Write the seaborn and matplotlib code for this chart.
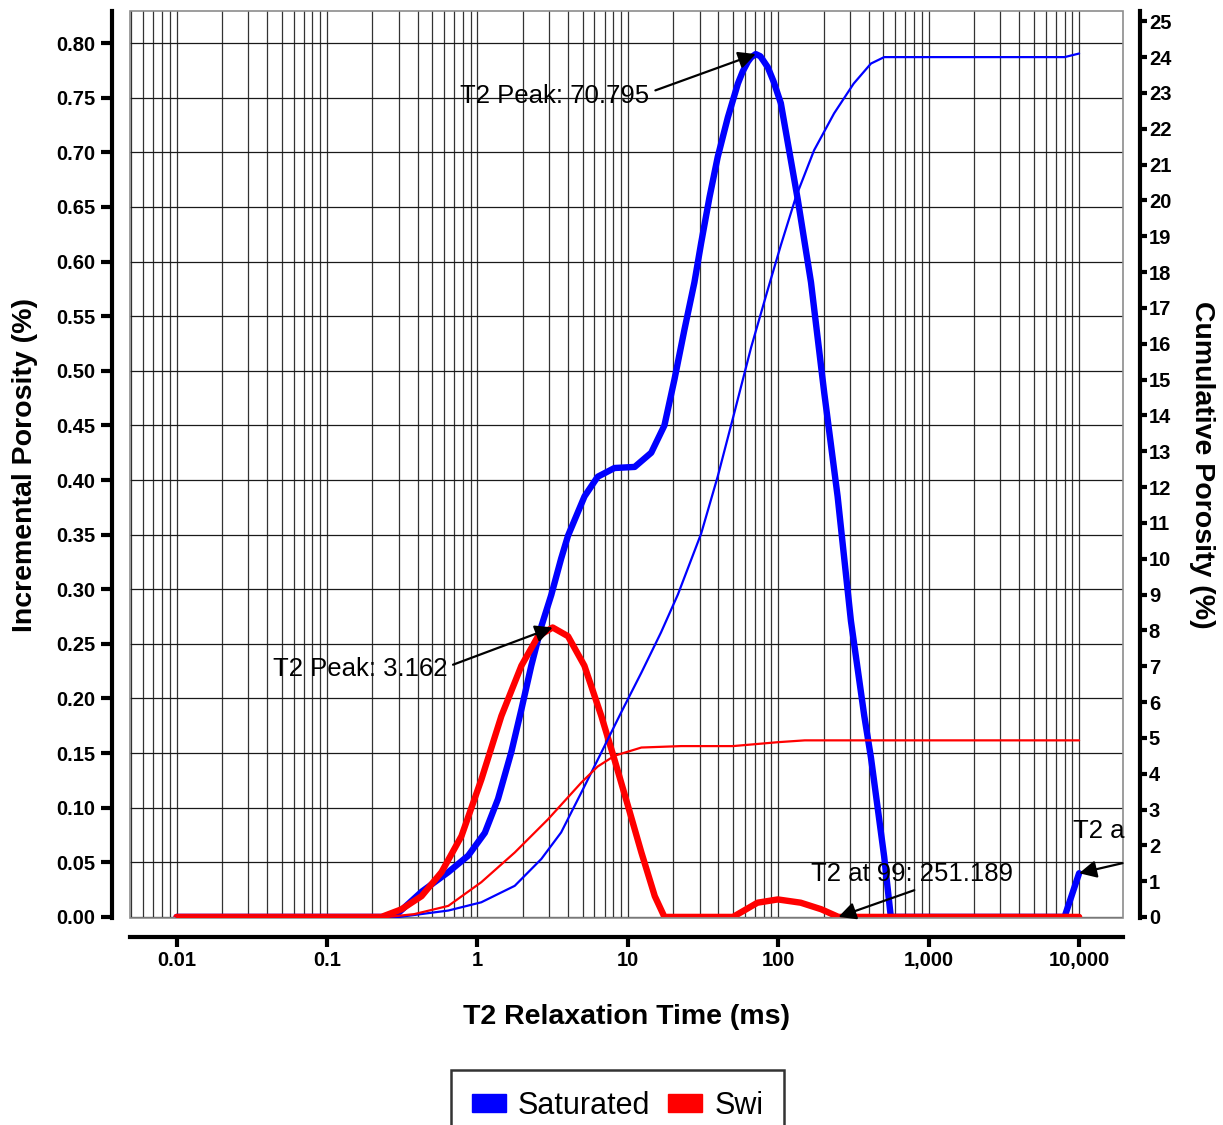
import numpy as np
import pandas as pd
import seaborn as sns
import matplotlib.pyplot as plt
from matplotlib.patches import Patch, Rectangle
from matplotlib.ticker import LogLocator, NullFormatter

# Saturated, incremental porosity (%)
sat_inc_t2 = [0.01, 0.25, 0.3, 0.425, 0.64, 0.867, 1.12, 1.37, 1.68, 1.96, 2.28, 2.66, 3.1, 3.6,
              4.0, 5.15, 6.3, 8.15, 11.1, 14.3, 17.5, 20.4, 23.8, 27.7, 30.7, 34.9, 39.6, 46.2,
              53.9, 58, 62.8, 66, 70.8, 76, 85.1, 93, 104, 134.7, 165, 202, 248, 304, 373, 413,
              506, 560, 8000, 10000]
sat_inc = [0, 0, 0.004, 0.023, 0.041, 0.056, 0.077, 0.108, 0.151, 0.19, 0.23, 0.266, 0.295, 0.328,
           0.349, 0.385, 0.403, 0.411, 0.412, 0.425, 0.450, 0.492, 0.538, 0.581, 0.617, 0.659, 0.696, 0.732,
           0.763, 0.774, 0.783, 0.787, 0.790, 0.788, 0.778, 0.765, 0.745, 0.657, 0.581, 0.48, 0.385, 0.271,
           0.184, 0.146, 0.055, 0.0, 0.0, 0.040]

# Saturated, cumulative porosity (%)
sat_cum_t2 = [0.01, 0.3, 0.64, 1.06, 1.77, 2.66, 3.6, 4.9, 6.66, 9.0, 12.3, 16.6, 21.5, 30.7,
              39.6, 51, 66, 85, 104, 131, 173, 235, 317, 413, 506, 8000, 10000]
sat_cum = [0, 0, 0.18, 0.41, 0.87, 1.62, 2.36, 3.47, 4.59, 5.7, 6.82, 7.94, 9.0, 10.7,
           12.3, 14.07, 15.9, 17.5, 18.75, 20.1, 21.4, 22.43, 23.26, 23.82, 24.0, 24.0, 24.1]

# Swi, incremental porosity (%)
swi_inc_t2 = [0.01, 0.23, 0.313, 0.425, 0.577, 0.783, 1.063, 1.443, 1.96, 2.53, 3.162, 4.0, 5.14,
              6.66, 8.15, 10.0, 12.3, 15.1, 17.5, 50, 59.5, 72.7, 99.3, 141, 193, 251, 10000]
swi_inc = [0, 0, 0.007, 0.019, 0.041, 0.074, 0.126, 0.184, 0.23, 0.257, 0.265, 0.257, 0.23,
           0.184, 0.144, 0.102, 0.059, 0.019, 0.0, 0.0, 0.006, 0.013, 0.016, 0.013, 0.007, 0.0, 0.0]

# Swi, cumulative porosity (%)
swi_cum_t2 = [0.01, 0.25, 0.38, 0.64, 1.06, 1.77, 2.95, 4.9, 6.3, 8.15, 12.3, 22.6, 50, 100, 150, 10000]
swi_cum = [0, 0, 0.08, 0.31, 0.97, 1.8, 2.73, 3.75, 4.2, 4.5, 4.73, 4.77, 4.77, 4.88, 4.93, 4.93]

samples = ["Saturated", "Swi"]
colors = ["blue", "red"]

x_ticks = [0.01, 0.1, 1, 10, 100, 1000, 10000]
x_tick_labels = ["0.01", "0.1", "1", "10", "100", "1,000", "10,000"]
y_ticks = [round(0.05 * i, 2) for i in range(17)]
y2_ticks = list(range(26))

peak_labels = ["T2 Peak: 70.795", "T2 Peak: 3.162", "T2 at 99: 251.189", "T2 a"]
peak_x = [70.795, 3.162, 251.189, 10000]
peak_y = [0.790, 0.265, 0.0, 0.040]

inc = pd.DataFrame({
    "T2": sat_inc_t2 + swi_inc_t2,
    "Porosity": sat_inc + swi_inc,
    "Sample": ["Saturated"] * len(sat_inc_t2) + ["Swi"] * len(swi_inc_t2),
})
cum = pd.DataFrame({
    "T2": sat_cum_t2 + swi_cum_t2,
    "Porosity": sat_cum + swi_cum,
    "Sample": ["Saturated"] * len(sat_cum_t2) + ["Swi"] * len(swi_cum_t2),
})

sns.set_style("white")
plt.rcParams["font.family"] = ["Liberation Sans", "DejaVu Sans"]
for key in ("text.color", "axes.labelcolor", "xtick.color", "ytick.color"):
    plt.rcParams[key] = "black"
palette = dict(zip(samples, colors))

fig = plt.figure(figsize=(12.23, 11.25), dpi=100)
ax = fig.add_axes([0.1063, 0.184, 0.812, 0.806])
ax2 = ax.twinx()

sns.lineplot(data=inc, x="T2", y="Porosity", hue="Sample", palette=palette, estimator=None,
             linewidth=4.6, legend=False, ax=ax, solid_joinstyle="round")
sns.lineplot(data=cum, x="T2", y="Porosity", hue="Sample", palette=palette, estimator=None,
             linewidth=1.6, legend=False, ax=ax2, solid_joinstyle="round")

ax.set_xscale("log")
ax.set_xlim(0.0049, 19600)
ax.set_ylim(-0.001, 0.8292)
ax2.set_ylim(-0.028, 25.28)

ax.set_xticks(x_ticks, x_tick_labels)
ax.xaxis.set_minor_locator(LogLocator(base=10, subs=np.arange(2, 10) * 1.0, numticks=30))
ax.xaxis.set_minor_formatter(NullFormatter())
ax.set_yticks(y_ticks, [f"{v:.2f}" for v in y_ticks])
ax2.set_yticks(y2_ticks, [str(v) for v in y2_ticks])

ax.grid(True, which="both", axis="x", color="0.2", linewidth=0.9)
ax.grid(True, which="major", axis="y", color="0.1", linewidth=0.9)
ax2.grid(False)

for a in (ax, ax2):
    for s in a.spines.values():
        s.set_visible(False)
ax.spines["left"].set_visible(True)
ax.spines["left"].set_position(("outward", 13))
ax.spines["bottom"].set_visible(True)
ax.spines["bottom"].set_position(("outward", 14))
ax2.spines["right"].set_visible(True)
ax2.spines["right"].set_position(("outward", 12))
for s in (ax.spines["left"], ax.spines["bottom"], ax2.spines["right"]):
    s.set_linewidth(3)
    s.set_color("black")

ax.add_patch(Rectangle((0, 0), 1, 1, transform=ax.transAxes, fill=False, edgecolor="0.55",
                       linewidth=1.2, clip_on=False, zorder=3))

ax.tick_params(axis="x", which="major", direction="out", length=7, width=3, pad=3,
               labelsize=14.5, bottom=True)
ax.tick_params(axis="x", which="minor", length=0)
ax.tick_params(axis="y", direction="out", length=8, width=3, pad=4, labelsize=14.5, left=True)
ax2.tick_params(axis="y", direction="out", length=5, width=3, pad=1.5, labelsize=14.5, right=True)
for lab in ax.get_xticklabels() + ax.get_yticklabels() + ax2.get_yticklabels():
    lab.set_fontweight("bold")

ax.set_xlabel("T2 Relaxation Time (ms)", fontsize=20.5, fontweight="bold")
ax.xaxis.set_label_coords(0.5, -0.0946)
ax.set_ylabel("Incremental Porosity (%)", fontsize=20.5, fontweight="bold")
ax.yaxis.set_label_coords(-0.0927, 0.5)
ax2.set_ylabel("Cumulative Porosity (%)", fontsize=20.5, fontweight="bold", rotation=270, va="bottom")
ax2.yaxis.set_label_coords(1.0665, 0.5)

# text anchors (data coords) and arrow start points
text_pos = [(0.77, 0.7515), (0.0435, 0.2267), (165.2, 0.0393), (9075, 0.0786)]
relpos = [(1.0, 0.65), (1.0, 0.6), (0.57, 0.0), None]
arrowprops = dict(arrowstyle="-|>", color="black", lw=1.6, mutation_scale=26, shrinkA=2, shrinkB=0)
for lbl, xv, yv, tp, rp in zip(peak_labels, peak_x, peak_y, text_pos, relpos):
    if rp is not None:
        ax2.annotate(lbl, xy=(xv, yv), xycoords=ax.transData, xytext=tp, textcoords=ax.transData,
                     ha="left", va="center", fontsize=18.5, arrowprops=dict(arrowprops, relpos=rp))
    else:
        # label runs past the plot edge: only its start is visible
        ax2.text(tp[0], tp[1], lbl, transform=ax.transData, ha="left", va="center", fontsize=18.5)
        ax2.annotate("", xy=(xv, yv), xycoords=ax.transData, xytext=(0.9995, 0.0605),
                     textcoords=ax.transAxes, arrowprops=dict(arrowprops, shrinkA=0))

handles = [Patch(facecolor=c, edgecolor=c) for c in colors]
leg = fig.legend(handles, samples, loc="upper center", bbox_to_anchor=(0.505, 0.0489), ncol=2,
                 fontsize=22, frameon=True, fancybox=False, edgecolor="black", handlelength=1.1,
                 handleheight=0.55, handletextpad=0.4, columnspacing=0.6, borderpad=0.68,
                 borderaxespad=0)
leg.get_frame().set_linewidth(1.8)

fig.savefig("out.png", dpi=100)
